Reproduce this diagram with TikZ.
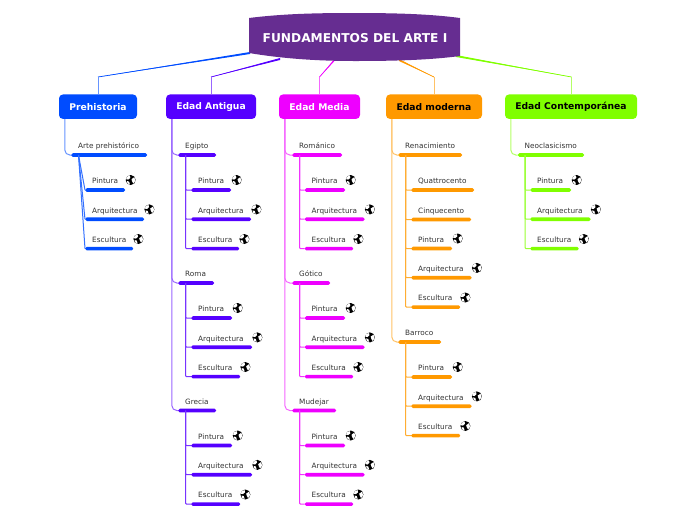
\documentclass[tikz,border=0pt]{standalone}
\usepackage{fontspec}
\usetikzlibrary{calc}
\setmainfont{DejaVu Sans}
\definecolor{cHead}{RGB}{102,45,145}
\definecolor{cBlue}{RGB}{0,76,255}
\definecolor{cViolet}{RGB}{85,0,255}
\definecolor{cMagenta}{RGB}{238,0,255}
\definecolor{cOrange}{RGB}{255,153,0}
\definecolor{cLime}{RGB}{128,255,0}
\definecolor{cText}{RGB}{50,50,50}
\tikzset{
  x=1pt,y=-1pt,
  catbox/.style={rounded corners=4pt,inner sep=0pt,minimum height=24.5pt,font=\bfseries\fontsize{9.2}{11}\selectfont},
  barbox/.style={rounded corners=1.6pt,inner sep=0pt,minimum height=3.6pt},
  lbl/.style={inner sep=0pt,anchor=base west,text=cText,font=\fontsize{7.3}{8}\selectfont},
  conn/.style={line width=1pt,rounded corners=5pt},
}
\newcommand{\globeat}[2]{%
  \begin{scope}[shift={(#1,#2)}]
    \fill[black] (0,0) circle[radius=5];
    \fill[white] (-3.6,-3.4) -- (-0.8,-4.4) -- (-0.4,-2.2) -- (-2.4,-0.4) -- (-4.6,-0.8) -- cycle;
    \fill[white] (0.8,-0.8) -- (3.6,-2.8) -- (4.7,0.6) -- (2.8,3.6) -- (1.4,1.4) -- cycle;
    \fill[white] (-3.8,1) -- (-1.6,1.6) -- (-0.8,4.4) -- (-3.2,3.4) -- cycle;
  \end{scope}}
% id, colour, x start, x end, bar y, text
\newcommand{\branch}[6]{%
  \node[barbox,fill=#2,minimum width=#4pt-#3pt,anchor=west] (#1) at (#3,#5) {};
  \node[lbl] (#1t) at (#3+7,#5-6.2) {#6};
}
\newcommand{\catlink}[3]{\draw[conn,draw=#1!60!white] ([xshift=6pt]#2.south west) |- (#3.west);}
\newcommand{\sublink}[3]{\draw[conn,draw=#1!80!white,rounded corners=1pt] ([xshift=7.5pt]#2.west) |- (#3.west);}
\newcommand{\diaglink}[3]{\draw[conn,draw=#1!80!white,rounded corners=0pt] ([xshift=7.5pt]#2.west) -- (#3.west);}
% colour, header coordinate, knee coordinate, category
\newcommand{\toplink}[4]{%
  \fill[#1] ($(#2)+(0,-1)$) -- ($(#2)+(0,1)$) -- (#3) -- cycle;
  \draw[#1,line width=0.7pt] (#2) -- (#3);
  \draw[conn,#1!60!white,rounded corners=0pt] (#3) -- (#4.north -| #3);
}
% prefix, colour, x, first bar y, x ends (3), parent bar, link macro name
\newcommand{\trio}[9]{%
  \branch{#1a}{#2}{#3}{#5}{#4}{Pintura}
  \branch{#1b}{#2}{#3}{#6}{#4+29.2}{Arquitectura}
  \branch{#1c}{#2}{#3}{#7}{#4+58.6}{Escultura}
  \csname #9\endcsname{#2}{#8}{#1c}
  \csname #9\endcsname{#2}{#8}{#1b}
  \csname #9\endcsname{#2}{#8}{#1a}
  \globeat{#5+5.7}{#4-10}
  \globeat{#6+5.4}{#4+19.4}
  \globeat{#7+5.4}{#4+49}
}
\begin{document}
\begin{tikzpicture}
\useasboundingbox (0,0) rectangle (696,520);
% centre
\coordinate (hA) at (250,53);
\coordinate (hB) at (280,59);
\coordinate (hC) at (334,60.5);
\coordinate (hD) at (399,60);
\coordinate (hE) at (456,56);
\coordinate (kA) at (98,77);
\coordinate (kB) at (211,77);
\coordinate (kC) at (319.5,77);
\coordinate (kD) at (434,77);
\coordinate (kE) at (571.5,77);
% categories
\node[catbox,fill=cBlue,text=white,minimum width=78pt] (cA) at (98,106.7) {\raisebox{-0.8pt}{Prehistoria}};
\node[catbox,fill=cViolet,text=white,minimum width=90pt] (cB) at (211,106.7) {\raisebox{-0.8pt}{Edad Antigua}};
\node[catbox,fill=cMagenta,text=white,minimum width=81pt] (cC) at (319.5,106.7) {\raisebox{-0.8pt}{Edad Media}};
\node[catbox,fill=cOrange,text=black,minimum width=96pt] (cD) at (434,106.7) {\raisebox{-0.8pt}{Edad moderna}};
\node[catbox,fill=cLime,text=black,minimum width=132pt] (cE) at (571,106.7) {\raisebox{-0.8pt}{Edad Contemporánea}};
% top connectors
\toplink{cBlue}{hA}{kA}{cA}
\toplink{cViolet}{hB}{kB}{cB}
\toplink{cMagenta}{hC}{kC}{cC}
\toplink{cOrange}{hD}{kD}{cD}
\toplink{cLime}{hE}{kE}{cE}
% header
\fill[cHead] (249,18) .. controls (285,13.5) and (320,13) .. (355,13) .. controls (395,13) and (430,14) .. (460,18)
  -- (460,56) .. controls (430,60) and (395,61) .. (355,61) .. controls (320,61) and (285,59) .. (249,53) -- cycle;
\node[inner sep=0pt,text=white,font=\bfseries\fontsize{12.2}{14}\selectfont] (hdr) at (355,38.2) {FUNDAMENTOS DEL ARTE I};
% Prehistoria
\branch{a1}{cBlue}{71}{147}{155}{Arte prehistórico}
\catlink{cBlue}{cA}{a1}
\trio{a1x}{cBlue}{85}{190}{125}{144}{133}{a1}{diaglink}
% Edad Antigua
\branch{b1}{cViolet}{178}{216}{155}{Egipto}
\branch{b2}{cViolet}{178}{214}{283}{Roma}
\branch{b3}{cViolet}{178}{216}{410.5}{Grecia}
\catlink{cViolet}{cB}{b3}\catlink{cViolet}{cB}{b2}\catlink{cViolet}{cB}{b1}
\trio{b1x}{cViolet}{191}{190}{231}{251}{239}{b1}{sublink}
\trio{b2x}{cViolet}{191}{318}{232}{252}{240}{b2}{sublink}
\trio{b3x}{cViolet}{191}{445.5}{232}{252}{240}{b3}{sublink}
% Edad Media
\branch{c1}{cMagenta}{292}{342}{155}{Románico}
\branch{c2}{cMagenta}{292}{330}{283}{Gótico}
\branch{c3}{cMagenta}{292}{336}{410.5}{Mudejar}
\catlink{cMagenta}{cC}{c3}\catlink{cMagenta}{cC}{c2}\catlink{cMagenta}{cC}{c1}
\trio{c1x}{cMagenta}{304.5}{190}{345}{364.5}{353}{c1}{sublink}
\trio{c2x}{cMagenta}{304.5}{318}{345}{364.5}{353}{c2}{sublink}
\trio{c3x}{cMagenta}{304.5}{445.5}{345}{364.5}{353}{c3}{sublink}
% Edad moderna
\branch{d1}{cOrange}{398}{462}{155}{Renacimiento}
\branch{d2}{cOrange}{398}{441}{342}{Barroco}
\catlink{cOrange}{cD}{d2}\catlink{cOrange}{cD}{d1}
\branch{d1q}{cOrange}{411}{474}{190}{Quattrocento}
\branch{d1r}{cOrange}{411}{471}{219.5}{Cinquecento}
\sublink{cOrange}{d1}{d1r}\sublink{cOrange}{d1}{d1q}
\trio{d1x}{cOrange}{411}{248.5}{452}{471.5}{460}{d1}{sublink}
\trio{d2x}{cOrange}{411}{377}{452}{471.5}{460}{d2}{sublink}
% Edad Contemporanea
\branch{e1}{cLime}{517.5}{584}{155}{Neoclasicismo}
\catlink{cLime}{cE}{e1}
\trio{e1x}{cLime}{530}{190}{571}{590.5}{578.5}{e1}{sublink}
\end{tikzpicture}
\end{document}
